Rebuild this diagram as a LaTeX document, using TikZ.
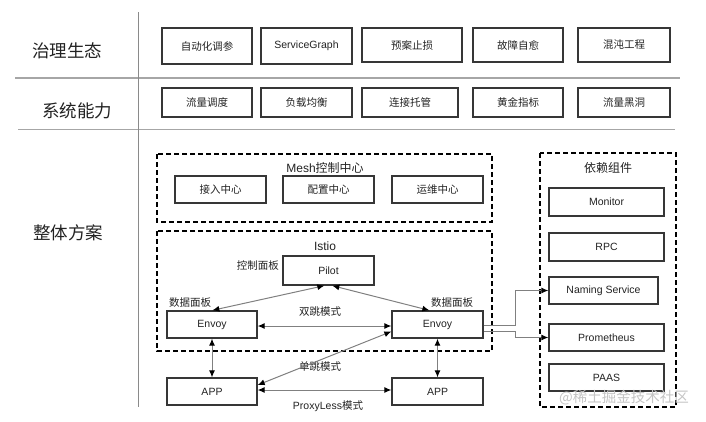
\documentclass[tikz,border=0pt]{standalone}
\usepackage{fontspec}
\setmainfont{Liberation Sans}
\newfontfamily\cjk{Noto Sans CJK SC}
\usetikzlibrary{arrows.meta,positioning,calc}
\definecolor{boxline}{HTML}{363636}
\definecolor{txt}{HTML}{222222}
\definecolor{sepline}{HTML}{A6A6A6}
\definecolor{vline}{HTML}{8A8A8A}
\definecolor{connline}{HTML}{808080}
\definecolor{wm}{HTML}{C4C4C4}
\tikzset{
  box/.style={draw=boxline, line width=1.35pt, rectangle, inner sep=0pt, text=txt, font=\fontsize{10.5}{12}\selectfont},
  bigl/.style={text=txt, font=\cjk\fontsize{17.5}{20}\selectfont},
  ttl/.style={text=txt, font=\fontsize{12}{14}\selectfont},
  lbl/.style={text=txt, font=\fontsize{10.5}{12}\selectfont, inner sep=0pt},
  dbox/.style={draw=black, line width=1.3pt, dash pattern=on 5pt off 3pt},
  sep/.style={draw=sepline, line width=1.5pt},
  tip/.style={},
  conn/.style={draw=connline, line width=1pt, -{Latex[length=7pt,width=6pt,color=black]}},
  biconn/.style={draw=connline, line width=1pt, {Latex[length=7pt,width=6pt,color=black]}-{Latex[length=7pt,width=6pt,color=black]}}
}
\begin{document}
\begin{tikzpicture}[x=1pt,y=-1pt]
\useasboundingbox (0,0) rectangle (706,421);
% frame lines
\draw[sep] (15,78) -- (680,78);
\draw[sep] (18,129.5) -- (675,129.5);
\draw[draw=vline, line width=1pt] (138,12) -- (138,407);
% row labels
\node[bigl] (l1) at (67,51) {治理生态};
\node[bigl] (l2) at (77,111) {系统能力};
\node[bigl] (l3) at (68,233) {整体方案};
% row 1
\node[box, minimum width=90pt, minimum height=36pt] (r11) at (207,46) {\cjk 自动化调参};
\node[box, minimum width=91pt, minimum height=36pt] (r12) at (306.5,46) {ServiceGraph};
\node[box, minimum width=100pt, minimum height=34pt] (r13) at (412,45) {\cjk 预案止损};
\node[box, minimum width=90pt, minimum height=34pt] (r14) at (518,45) {\cjk 故障自愈};
\node[box, minimum width=92pt, minimum height=34pt] (r15) at (624,45) {\cjk 混沌工程};
% row 2
\node[box, minimum width=90pt, minimum height=29pt] (r21) at (207,102.5) {\cjk 流量调度};
\node[box, minimum width=91pt, minimum height=29pt] (r22) at (306.5,102.5) {\cjk 负载均衡};
\node[box, minimum width=96pt, minimum height=29pt] (r23) at (410,102.5) {\cjk 连接托管};
\node[box, minimum width=90pt, minimum height=29pt] (r24) at (518,102.5) {\cjk 黄金指标};
\node[box, minimum width=92pt, minimum height=29pt] (r25) at (624,102.5) {\cjk 流量黑洞};
% Mesh control center
\draw[dbox] (157,154) rectangle (492,222);
\node[ttl] (mesh) at (325,168) {Mesh{\cjk 控制中心}};
\node[box, minimum width=91pt, minimum height=27pt] (m1) at (220.5,189.5) {\cjk 接入中心};
\node[box, minimum width=91pt, minimum height=27pt] (m2) at (328.5,189.5) {\cjk 配置中心};
\node[box, minimum width=91pt, minimum height=27pt] (m3) at (437.5,189.5) {\cjk 运维中心};
% Istio
\draw[dbox] (157,231) rectangle (492,351);
\node[ttl] (istio) at (325,246) {Istio};
\node[box, minimum width=91pt, minimum height=29pt] (pilot) at (328.5,270.5) {Pilot};
\node[box, minimum width=90pt, minimum height=27pt] (envL) at (212,324.5) {Envoy};
\node[box, minimum width=91pt, minimum height=27pt] (envR) at (437.5,324.5) {Envoy};
\node[box, minimum width=90pt, minimum height=27pt] (appL) at (212,391.5) {APP};
\node[box, minimum width=91pt, minimum height=27pt] (appR) at (437.5,391.5) {APP};
\node[lbl, anchor=east] (cp) at (279,266) {\cjk 控制面板};
\node[lbl] (dpL) at (190,303) {\cjk 数据面板};
\node[lbl] (dpR) at (452,303) {\cjk 数据面板};
\node[lbl] (two) at (320,312) {\cjk 双跳模式};
\node[lbl] (one) at (320,367) {\cjk 单跳模式};
\node[lbl] (pl) at (328,406) {ProxyLess{\cjk 模式}};
% connectors
\draw[biconn] ([xshift=46pt]envL.north west) -- ([xshift=42pt]pilot.south west);
\draw[biconn] ([xshift=38pt]envR.north west) -- ([xshift=50pt]pilot.south west);
\draw[biconn] ([yshift=-1.5pt]envL.east) -- ([yshift=-1.5pt]envR.west);
\draw[biconn] ([yshift=6.5pt]appL.east) -- ([yshift=-7pt]envR.west);
\draw[biconn] ([yshift=1.5pt]appL.east) -- ([yshift=1.5pt]appR.west);
\draw[biconn] (envL.south) -- (appL.north);
\draw[biconn] (envR.south) -- (appR.north);
% dependencies
\draw[dbox] (540,153) rectangle (676,407);
\node[ttl] (dep) at (608,168) {\cjk 依赖组件};
\node[box, minimum width=115pt, minimum height=28pt] (mon) at (606.5,202) {Monitor};
\node[box, minimum width=115pt, minimum height=28pt] (rpc) at (606.5,247) {RPC};
\node[box, minimum width=109pt, minimum height=27pt] (nam) at (603.5,290.5) {Naming Service};
\node[box, minimum width=115pt, minimum height=27pt] (prom) at (606.5,337.5) {Prometheus};
\node[box, minimum width=115pt, minimum height=27pt] (paas) at (606.5,377.5) {PAAS};
\draw[conn] ([yshift=-0.5pt]envR.east) -- ++(32,0) |- (nam.west);
\draw[conn] ([yshift=-6.5pt]envR.east) -- ++(32,0) |- (prom.west);
% watermark
\node[text=wm, font=\cjk\fontsize{14.5}{16}\selectfont] (wmk) at (624,398) {@稀土掘金技术社区};
\end{tikzpicture}
\end{document}
